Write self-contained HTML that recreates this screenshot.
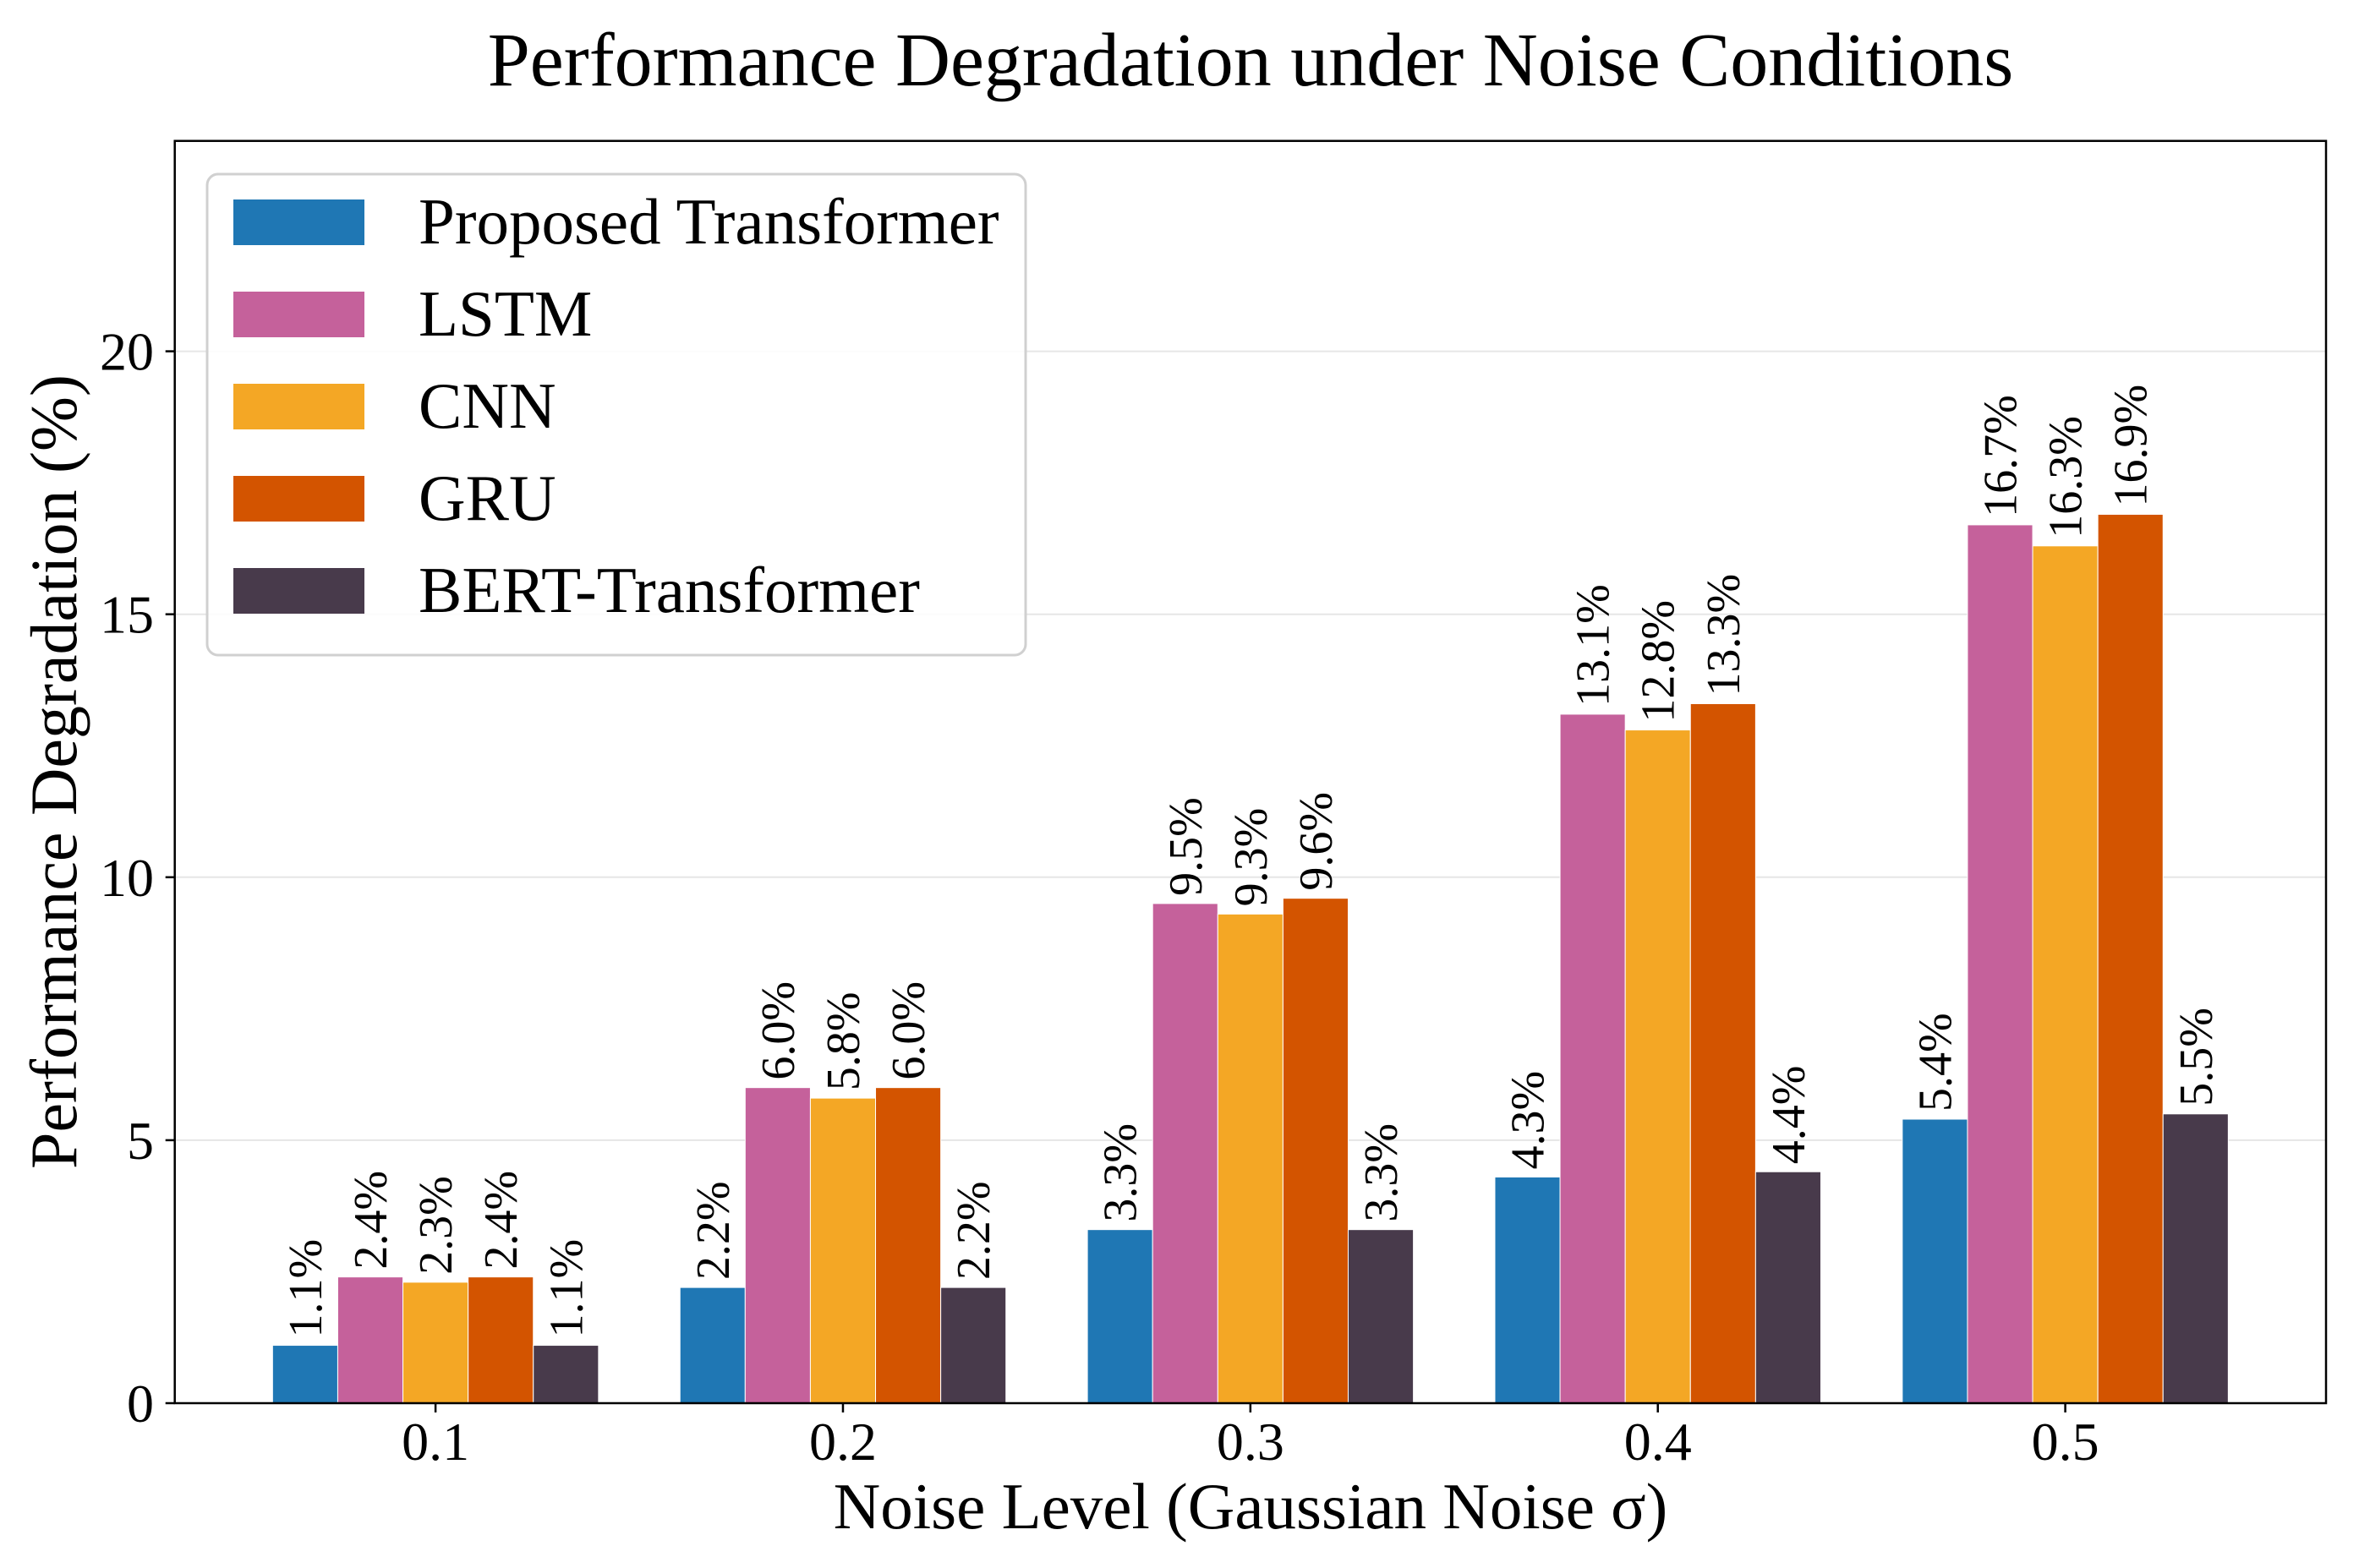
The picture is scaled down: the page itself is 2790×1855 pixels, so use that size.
<!DOCTYPE html>
<html><head><meta charset="utf-8"><style>
html,body{margin:0;padding:0;background:#fff;}
svg{display:block;font-family:"Liberation Serif","Times New Roman",serif;}
text{font-family:"Liberation Serif","Times New Roman",serif;}
</style></head><body>
<svg id="chart" xmlns="http://www.w3.org/2000/svg" width="2790" height="1855" viewBox="0 0 2790 1855">
<rect x="0" y="0" width="2790" height="1855" fill="#fff"/>
<text x="1479" y="101" font-size="90" text-anchor="middle" fill="#000">Performance Degradation under Noise Conditions</text>
<g id="grid"></g>
<g id="bars"></g>
<g id="labels"></g>
<rect x="206.7" y="166.7" width="2544.3" height="1493.3" fill="none" stroke="#000" stroke-width="2.5"/>
<g id="axes"></g>
<text x="1479" y="1808" font-size="77" text-anchor="middle" fill="#000">Noise Level (Gaussian Noise σ)</text>
<text transform="translate(90,913) rotate(-90)" font-size="78" text-anchor="middle" fill="#000">Performance Degradation (%)</text>
<g id="legend">
<rect x="245" y="206" width="968" height="569" rx="13" ry="13" fill="#fff" fill-opacity="0.85" stroke="#d0d0d0" stroke-width="3"/>
</g>
</svg>
<script>
const categories = ["0.1","0.2","0.3","0.4","0.5"];
const seriesNames = ["Proposed Transformer","LSTM","CNN","GRU","BERT-Transformer"];
const proposedValues = [1.1,2.2,3.3,4.3,5.4];
const lstmValues = [2.4,6.0,9.5,13.1,16.7];
const cnnValues = [2.3,5.8,9.3,12.8,16.3];
const gruValues = [2.4,6.0,9.6,13.3,16.9];
const bertValues = [1.1,2.2,3.3,4.4,5.5];
const yTicks = [0,5,10,15,20];
const colors = ["#1f77b4","#c5619b","#f4a725","#d35400","#483a4b"];

const NS = "http://www.w3.org/2000/svg";
const L = 206.7, R = 2751, T = 166.7, B = 1660;
const xMin = -0.64, xMax = 4.64, yMax = 24;
function xs(v){ return L + (v - xMin) / (xMax - xMin) * (R - L); }
function ys(v){ return B - v / yMax * (B - T); }
function mk(tag, attrs, parent){
  const e = document.createElementNS(NS, tag);
  for (const k in attrs) e.setAttribute(k, attrs[k]);
  parent.appendChild(e);
  return e;
}
const grid = document.getElementById("grid");
const bars = document.getElementById("bars");
const labels = document.getElementById("labels");
const axes = document.getElementById("axes");
const legend = document.getElementById("legend");
const allSeries = [proposedValues, lstmValues, cnnValues, gruValues, bertValues];
const barW = 0.16;
const FF = '"Liberation Serif", "Times New Roman", serif';

yTicks.forEach(function(t){
  const y = ys(t);
  const g = mk("line", {x1:L, x2:R, y1:y, y2:y, stroke:"#e6e6e6", "stroke-width":2}, grid);
  
  
  const tk = mk("line", {x1:L-11, x2:L, y1:y, y2:y, stroke:"#000", "stroke-width":2.5}, axes);
  
  
  const tl = mk("text", {x:182, y:y+22, "font-size":64, "text-anchor":"end", fill:"#000", "font-family":FF}, axes);
  tl.textContent = String(t);
  
  
});

categories.forEach(function(c, i){
  const x = xs(i);
  const tk = mk("line", {x1:x, x2:x, y1:B, y2:B+11, stroke:"#000", "stroke-width":2.5}, axes);
  
  
  const tl = mk("text", {x:x, y:1727, "font-size":64, "text-anchor":"middle", fill:"#000", "font-family":FF}, axes);
  tl.textContent = c;
  
  
});

allSeries.forEach(function(vals, s){
  vals.forEach(function(v, i){
    const x0 = xs(i + (s - 2.5) * barW);
    const x1 = xs(i + (s - 1.5) * barW);
    const r = mk("rect", {x:x0, y:ys(v), width:x1-x0, height:B-ys(v), fill:colors[s], stroke:"#fff", "stroke-width":1}, bars);
    
    
    const cx = (x0 + x1) / 2;
    const ty = ys(v) - 9;
    const t = mk("text", {transform:"translate(" + (cx + 19) + "," + ty + ") rotate(-90)", "font-size":56, fill:"#000", "font-family":FF}, labels);
    t.textContent = v.toFixed(1) + "%";
    
    
  });
});

seriesNames.forEach(function(n, s){
  const cy = 263 + s * 109;
  const p = mk("rect", {x:276, y:cy-27, width:155, height:54, fill:colors[s]}, legend);
  
  
  const t = mk("text", {x:495, y:cy+25, "font-size":77, fill:"#000", "font-family":FF}, legend);
  t.textContent = n;
  
  
});
</script>
</body></html>
